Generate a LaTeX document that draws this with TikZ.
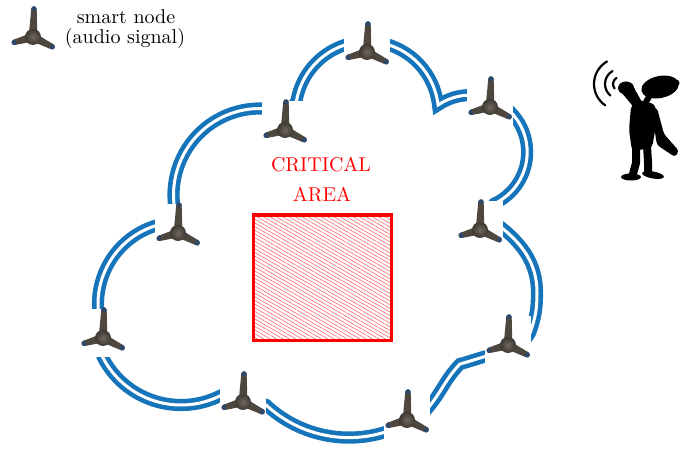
\documentclass[tikz,border=0pt]{standalone}
\usetikzlibrary{patterns.meta,calc}
\definecolor{cloudblue}{RGB}{22,117,186}
\definecolor{legc}{RGB}{78,71,64}
\definecolor{tipc}{RGB}{44,72,108}
\definecolor{sphl}{RGB}{112,104,96}
\definecolor{sphd}{RGB}{62,56,51}
\begin{document}
\begin{tikzpicture}[x=0.5pt,y=0.5pt,
  cloudline/.style={draw=cloudblue, line width=2.3pt, double=white, double distance=1.5pt, line join=miter},
  sbox/.style={fill=white, inner sep=0pt, outer sep=0pt, minimum width=23pt, minimum height=24pt},
  lbl/.style={inner sep=0pt, anchor=base},
  wave/.style={line width=1.1pt, line cap=round},
  limb/.style={line cap=round, line join=round},
  sensor/.pic={
    % three tapered legs with dark blue feet
    \foreach \ang/\len in {88/28,196/19.5,-27/21.5}{
      \begin{scope}[rotate=\ang]
        \fill[legc] (0,-4.4) -- (\len,-2.7) arc[start angle=-90,end angle=90,radius=2.7] -- (0,4.4) -- cycle;
        \fill[tipc] (\len-1.5,-2.7) -- (\len,-2.7) arc[start angle=-90,end angle=90,radius=2.7] -- (\len-1.5,2.7) -- cycle;
      \end{scope}
    }
    % central hub
    \shade[inner color=sphl, outer color=sphd] (0,0) circle[radius=8];
  }
]
\useasboundingbox (0,0) rectangle (681,-449);

% ---------- the cloud outline ----------
\draw[cloudline]
 ($(367,-113)+(170:71.5)$) arc[start angle=170,end angle=6.4,radius=71.5]
 arc[start angle=124.3,end angle=-65,radius=57]
 -- (486,-216)
 to[out=-35,in=90] (537,-293)
 to[out=-90,in=70] (530,-333)
 to[out=-120,in=15] (487,-356)
 to[out=-165,in=15] (460,-364)
 to[out=-134,in=50] (428,-408)
 to[out=-130,in=18] ($(349,-316)+(-72.3:121.6)$)
 arc[start angle=-72.3,end angle=-133,radius=121.6]
 -- (240,-395)
 -- ($(181,-317)+(-63:88)$)
 arc[start angle=-63,end angle=-153,radius=88]
 -- ($(180,-304)+(184:82)$)
 arc[start angle=184,end angle=107,radius=82]
 -- (175,-220)
 -- ($(260,-195)+(185:86.5)$)
 arc[start angle=185,end angle=88,radius=86.5]
 -- (287,-116) -- cycle;

% ---------- smart nodes on the outline ----------
\foreach \nm/\cx/\cy in {n1/367/52, n2/490/107, n3/480/230, n4/508/345, n5/407/420,
                         n6/243/402, n7/103/338, n8/178/233, n9/285/130}{
  \node[sbox] (\nm) at (\cx,{5-\cy}) {};
  \pic at ([yshift=-2.5pt]\nm.center) {sensor};
}

% ---------- legend ----------
\pic (legendicon) at (33,-37) {sensor};
\node[lbl] (legA) at (126,-24) {smart node};
\node[lbl] (legB) at (125,-44) {(audio signal)};

% ---------- critical area ----------
\node[draw=red, line width=1.6pt, inner sep=0pt, outer sep=0pt,
      minimum width=69pt, minimum height=62.75pt,
      pattern={Lines[angle=-30,distance=1.6pt,line width=0.3pt]}, pattern color=red!60]
      (crit) at (322.5,-277.75) {};
\node[lbl, text=red] (critA) at (321,-172) {CRITICAL};
\node[lbl, text=red] (critB) at (322,-202) {AREA};

% ---------- listening figure ----------
\begin{scope}
  % sound waves
  \foreach \r/\e in {7/220,15/230,26/235}{
    \draw[wave] (620,-84) ++(120:\r) arc[start angle=120,end angle=\e,radius=\r];
  }
  % head with nose
  \fill[rotate around={12:(660,-87)}] (660,-87) ellipse[x radius=19, y radius=11];
  \fill (676,-83) circle[radius=3.5];
  % raised hand cupped at the ear, and its arm
  \fill (626,-88) ellipse[x radius=8, y radius=6.5];
  \fill (622,-93) -- (632,-84) -- (643,-104) -- (636,-110) -- cycle;
  \draw[white, line width=0.8pt] (636,-90) -- (645,-99);
  % neck
  \draw[limb, line width=3pt] (650,-95) -- (646,-102);
  % torso
  \fill[rounded corners=2pt] (638,-100) -- (655,-104) -- (657,-120) -- (652,-148)
        -- (632,-151) -- (629,-130) -- (631,-106) -- cycle;
  % arm bent to the hip
  \fill[rounded corners=1.5pt] (651,-108) -- (657,-108) -- (664,-134) -- (679,-151)
        -- (675,-157) -- (657,-145) -- cycle;
  % legs
  \draw[limb, line width=4pt] (636,-148) -- (636,-163) -- (633,-174);
  \draw[limb, line width=4pt] (647,-146) -- (648,-162) -- (648,-172);
  % feet
  \fill (631,-177) ellipse[x radius=10, y radius=3.5];
  \fill[rotate around={-10:(653,-175)}] (653,-175) ellipse[x radius=11, y radius=3.5];
\end{scope}
\end{tikzpicture}
\end{document}
